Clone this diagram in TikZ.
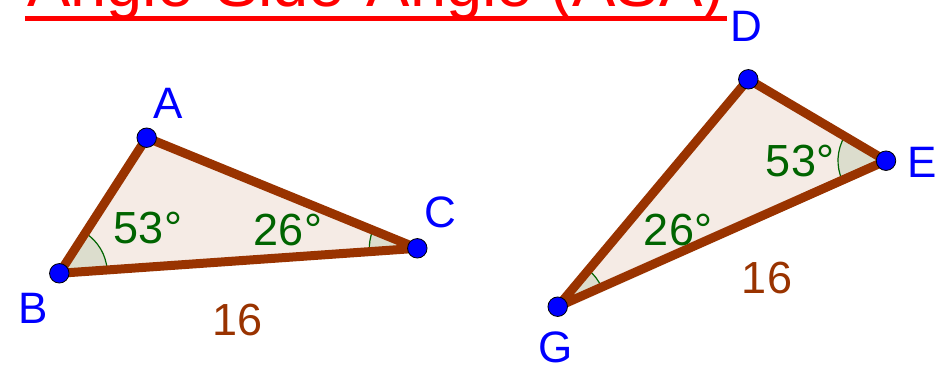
\documentclass[tikz,border=0pt]{standalone}
\usepackage{fontspec}
\setmainfont{Liberation Sans}
\usetikzlibrary{angles}
\definecolor{ggbrown}{RGB}{153,51,0}
\definecolor{ggreen}{RGB}{0,100,0}
\begin{document}
\begin{tikzpicture}[x=1pt, y=-1pt]
  \tikzset{
    tri/.style={draw=ggbrown, line width=9pt, line join=round, fill=ggbrown!10},
    angsec/.style={draw=ggreen, line width=1.2pt, fill=ggreen, fill opacity=0.1, angle radius=48pt},
    dot/.style={circle, draw=black, line width=0.8pt, fill=blue, minimum size=19.5pt, inner sep=0pt},
    vlabel/.style={text=blue, font=\fontsize{44}{50}\selectfont, inner sep=0pt},
    alabel/.style={text=ggreen, font=\fontsize{45}{50}\selectfont, inner sep=0pt},
    slabel/.style={text=ggbrown, font=\fontsize{45}{50}\selectfont, inner sep=0pt},
    title/.style={text=red, font=\fontsize{65}{70}\selectfont, inner sep=0pt, anchor=base west},
    uline/.style={draw=red, line width=4.5pt},
  }
  \useasboundingbox (0,0) rectangle (947,369);
  % Title (cut off at the top)
  \node[title] (title) at (27,7) {Angle-Side-Angle (ASA)};
  \draw[uline] ([shift={(-2,11.5)}]title.base west) -- ([shift={(2,11.5)}]title.base east);
  % Vertices
  \coordinate (A) at (146.7,137.7);
  \coordinate (B) at (59.3,273.3);
  \coordinate (C) at (417.3,248.3);
  \coordinate (D) at (748.3,79.3);
  \coordinate (E) at (886,160.7);
  \coordinate (G) at (557.7,306.7);
  % Triangles
  \fill[tri, draw=none] (A) -- (B) -- (C) -- cycle;
  \fill[tri, draw=none] (D) -- (E) -- (G) -- cycle;
  % Angles
  \pic[angsec] {angle = C--B--A};
  \pic[angsec] {angle = A--C--B};
  \pic[angsec] {angle = D--E--G};
  \pic[angsec] {angle = E--G--D};
  \draw[tri, fill=none] (A) -- (B) -- (C) -- cycle;
  \draw[tri, fill=none] (D) -- (E) -- (G) -- cycle;
  % Points
  \foreach \p in {A,B,C,D,E,G}{
    \node[dot] (dot\p) at (\p) {};
  }
  % Labels
  \node[vlabel] (lA) at (168,103) {A};
  \node[vlabel] (lB) at (33,308) {B};
  \node[vlabel] (lC) at (440,212) {C};
  \node[vlabel] (lD) at (746,26) {D};
  \node[vlabel] (lE) at (922,162) {E};
  \node[vlabel] (lG) at (556,347) {G};
  \node[alabel] (aB) at (148,228) {53°};
  \node[alabel] (aC) at (288,230) {26°};
  \node[alabel] (aE) at (800,161) {53°};
  \node[alabel] (aG) at (678,230) {26°};
  \node[slabel] (sBC) at (238,320) {16};
  \node[slabel] (sEG) at (767,278) {16};
\end{tikzpicture}
\end{document}
